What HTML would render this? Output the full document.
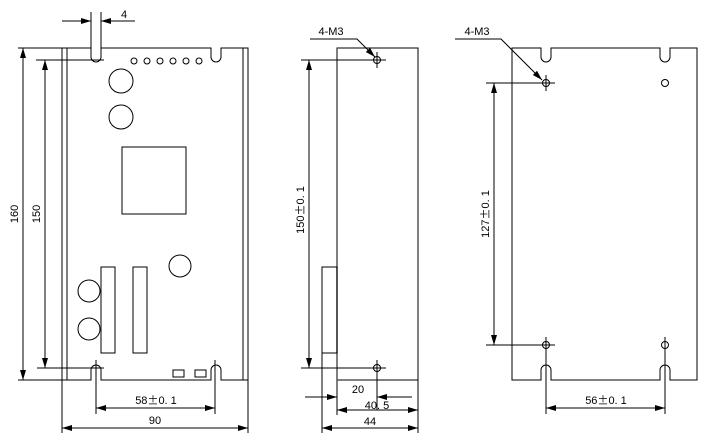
<!DOCTYPE html>
<html><head><meta charset="utf-8"><style>
html,body{margin:0;padding:0;background:#fff;}
svg{display:block;}
text{font-family:"Liberation Sans",sans-serif;font-size:11px;fill:#000;}
.pm{font-family:"Noto Sans CJK SC",sans-serif;}
</style></head><body>
<svg width="718" height="445" viewBox="0 0 718 445" xmlns="http://www.w3.org/2000/svg">
<defs>
<marker id="a" viewBox="0 0 10 6" refX="10" refY="3" markerWidth="11" markerHeight="6" orient="auto-start-reverse" markerUnits="userSpaceOnUse"><path d="M0,0 L10,3 L0,6 z" fill="#000"/></marker>
</defs>
<g fill="none" stroke="#000" stroke-width="1">
<path d="M62,48 V380 H91 V370 A5,5 0 0 1 101,370 V380 H211 V370 A5,5 0 0 1 221,370 V380 H248 V48 H221 V57 A5,5 0 0 1 211,57 V48 H101 V57 A5,5 0 0 1 91,57 V48 Z"/>
<line x1="67" y1="48" x2="67" y2="380"/>
<line x1="243" y1="48" x2="243" y2="380"/>
<circle cx="134" cy="61" r="3"/><circle cx="147" cy="61" r="3"/><circle cx="160" cy="61" r="3"/>
<circle cx="173" cy="61" r="3"/><circle cx="186" cy="61" r="3"/><circle cx="199" cy="61" r="3"/>
<circle cx="121" cy="81" r="12"/><circle cx="121" cy="117" r="12"/>
<circle cx="180" cy="266" r="11"/><circle cx="89" cy="291" r="11"/><circle cx="89" cy="329" r="11"/>
<rect x="122" y="147" width="64" height="67"/>
<rect x="101" y="267" width="14" height="86"/>
<rect x="133" y="267" width="14" height="86"/>
<rect x="173" y="370" width="11" height="7"/>
<rect x="195" y="370" width="11" height="7"/>
<line x1="91" y1="12" x2="91" y2="48"/><line x1="101" y1="12" x2="101" y2="48"/>
<line x1="62" y1="21" x2="91" y2="21" marker-end="url(#a)"/>
<line x1="135" y1="21" x2="101" y2="21" marker-end="url(#a)"/>
<line x1="18" y1="48" x2="62" y2="48"/><line x1="18" y1="380" x2="62" y2="380"/>
<line x1="23" y1="48" x2="23" y2="380" marker-start="url(#a)" marker-end="url(#a)"/>
<line x1="36" y1="60" x2="104" y2="60"/><line x1="37" y1="368" x2="104" y2="368"/>
<line x1="45" y1="60" x2="45" y2="368" marker-start="url(#a)" marker-end="url(#a)"/>
<line x1="96" y1="360" x2="96" y2="414"/><line x1="215" y1="360" x2="215" y2="414"/>
<line x1="96" y1="408" x2="215" y2="408" marker-start="url(#a)" marker-end="url(#a)"/>
<line x1="62" y1="380" x2="62" y2="433"/><line x1="248" y1="380" x2="248" y2="433"/>
<line x1="62" y1="428" x2="248" y2="428" marker-start="url(#a)" marker-end="url(#a)"/>

<rect x="337" y="48" width="81" height="332"/>
<line x1="337" y1="48" x2="337" y2="415" stroke="#555" stroke-width="1.5"/>
<rect x="322" y="267" width="15" height="86"/>
<circle cx="377" cy="60" r="3.5"/><line x1="370" y1="60" x2="386" y2="60"/><line x1="377" y1="52" x2="377" y2="68"/>
<circle cx="377" cy="368" r="3.5"/><line x1="377" y1="360" x2="377" y2="410"/>
<line x1="301" y1="60" x2="386" y2="60"/><line x1="301" y1="368" x2="386" y2="368"/>
<line x1="309" y1="60" x2="309" y2="368" marker-start="url(#a)" marker-end="url(#a)"/>
<polyline points="310,39 357,39 375,57" marker-end="url(#a)"/>
<line x1="305" y1="397" x2="337" y2="397" marker-end="url(#a)"/>
<line x1="412" y1="397" x2="377" y2="397" marker-end="url(#a)"/>
<line x1="337" y1="410" x2="418" y2="410" marker-start="url(#a)" marker-end="url(#a)"/>
<line x1="322" y1="353" x2="322" y2="433"/><line x1="418" y1="380" x2="418" y2="433"/>
<line x1="322" y1="428" x2="418" y2="428" marker-start="url(#a)" marker-end="url(#a)"/>

<path d="M512,48 V380 H541 V370 A5,5 0 0 1 551,370 V380 H660 V370 A5,5 0 0 1 670,370 V380 H697 V48 H670 V57 A5,5 0 0 1 660,57 V48 H551 V57 A5,5 0 0 1 541,57 V48 Z"/>
<circle cx="546" cy="83" r="3.5"/><line x1="546" y1="75" x2="546" y2="91"/>
<circle cx="665" cy="83" r="3.5"/>
<circle cx="546" cy="345" r="3.5"/><line x1="546" y1="337" x2="546" y2="414"/>
<circle cx="665" cy="345" r="3.5"/><line x1="665" y1="337" x2="665" y2="414"/>
<line x1="486" y1="83" x2="555" y2="83"/><line x1="486" y1="345" x2="555" y2="345"/>
<line x1="494" y1="83" x2="494" y2="345" marker-start="url(#a)" marker-end="url(#a)"/>
<polyline points="455,39 501,39 542,80" marker-end="url(#a)"/>
<line x1="546" y1="408" x2="665" y2="408" marker-start="url(#a)" marker-end="url(#a)"/>
</g>
<g>
<text x="121" y="18">4</text>
<text transform="translate(18,214) rotate(-90)" text-anchor="middle">160</text>
<text transform="translate(40,214) rotate(-90)" text-anchor="middle">150</text>
<text x="156" y="404" text-anchor="middle">58<tspan class="pm">±</tspan>0. 1</text>
<text x="155" y="424" text-anchor="middle">90</text>
<text transform="translate(304,210) rotate(-90)" text-anchor="middle">150<tspan class="pm">±</tspan>0. 1</text>
<text x="331" y="35" text-anchor="middle">4-M3</text>
<text x="358" y="393" text-anchor="middle">20</text>
<text x="377" y="409" text-anchor="middle">40. 5</text>
<text x="370" y="425" text-anchor="middle">44</text>
<text x="477" y="35" text-anchor="middle">4-M3</text>
<text transform="translate(489,214) rotate(-90)" text-anchor="middle">127<tspan class="pm">±</tspan>0. 1</text>
<text x="606" y="404" text-anchor="middle">56<tspan class="pm">±</tspan>0. 1</text>
</g>
</svg>
</body></html>
